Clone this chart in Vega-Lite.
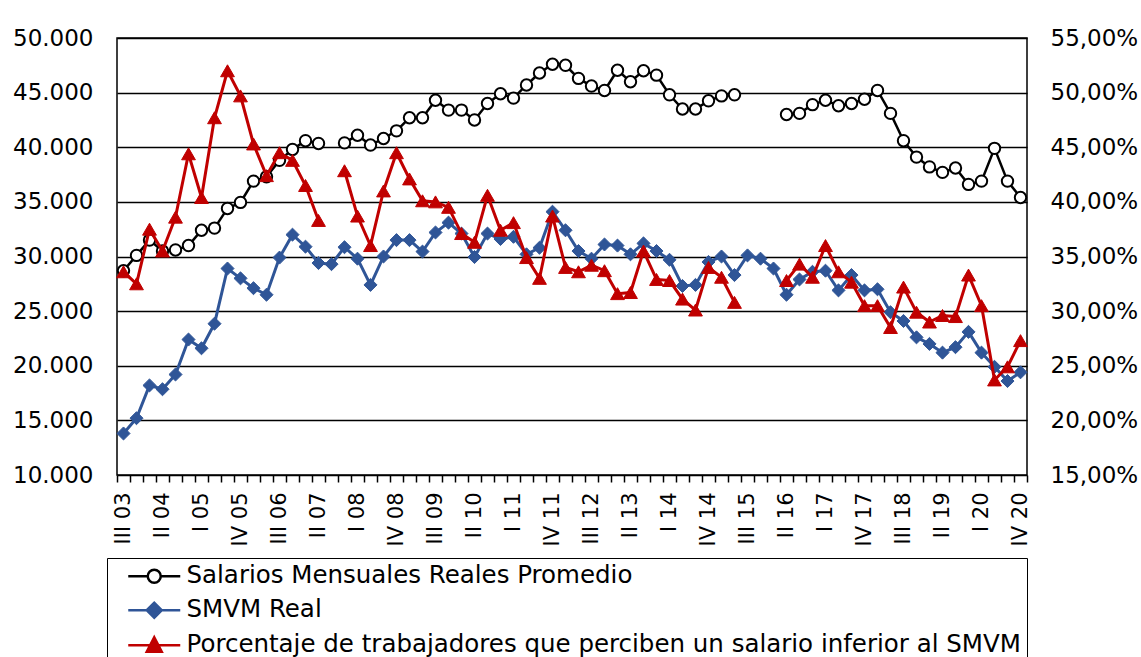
{
  "$schema": "https://vega.github.io/schema/vega-lite/v6.json",
  "autosize": "none",
  "width": 910,
  "height": 437,
  "padding": {"left": 117, "top": 38, "right": 114, "bottom": 182},
  "background": "white",
  "config": {
    "view": {"stroke": "black", "strokeWidth": 1.5},
    "font": "DejaVu Sans",
    "legend": {
      "orient": "none",
      "legendX": -10,
      "legendY": 520,
      "direction": "vertical",
      "strokeColor": "black",
      "fillColor": "white",
      "padding": 6,
      "rowPadding": 9,
      "labelFontSize": 24.5,
      "labelFont": "DejaVu Sans",
      "labelColor": "black",
      "labelLimit": 2000,
      "symbolSize": 400,
      "symbolOffset": 29,
      "labelOffset": 20,
      "symbolStrokeWidth": 2.5,
      "symbolOpacity": 1
    }
  },
  "data": {
    "values": [
      {"q": "III 03", "s": 28700, "m": 13800, "p": 33.6},
      {"q": "IV 03", "s": 30100, "m": 15200, "p": 32.5},
      {"q": "I 04", "s": 31500, "m": 18200, "p": 37.5},
      {"q": "II 04", "s": 30500, "m": 17850, "p": 35.5},
      {"q": "III 04", "s": 30600, "m": 19200, "p": 38.6},
      {"q": "IV 04", "s": 31000, "m": 22400, "p": 44.4},
      {"q": "I 05", "s": 32400, "m": 21600, "p": 40.4},
      {"q": "II 05", "s": 32600, "m": 23850, "p": 47.7},
      {"q": "III 05", "s": 34400, "m": 28900, "p": 52.0},
      {"q": "IV 05", "s": 34950, "m": 28000, "p": 49.7},
      {"q": "I 06", "s": 36900, "m": 27100, "p": 45.3},
      {"q": "II 06", "s": 37300, "m": 26500, "p": 42.4},
      {"q": "III 06", "s": 38800, "m": 29900, "p": 44.5},
      {"q": "IV 06", "s": 39800, "m": 32000, "p": 43.8},
      {"q": "I 07", "s": 40600, "m": 30900, "p": 41.5},
      {"q": "II 07", "s": 40350, "m": 29400, "p": 38.3},
      {"q": "III 07", "s": null, "m": 29300, "p": null},
      {"q": "IV 07", "s": 40400, "m": 30850, "p": 42.85},
      {"q": "I 08", "s": 41100, "m": 29800, "p": 38.7},
      {"q": "II 08", "s": 40200, "m": 27400, "p": 36.0},
      {"q": "III 08", "s": 40800, "m": 30000, "p": 41.0},
      {"q": "IV 08", "s": 41500, "m": 31500, "p": 44.5},
      {"q": "I 09", "s": 42700, "m": 31500, "p": 42.1},
      {"q": "II 09", "s": 42700, "m": 30450, "p": 40.1},
      {"q": "III 09", "s": 44300, "m": 32200, "p": 40.0},
      {"q": "IV 09", "s": 43400, "m": 33100, "p": 39.5},
      {"q": "I 10", "s": 43400, "m": 32100, "p": 37.1},
      {"q": "II 10", "s": 42500, "m": 29950, "p": 36.3},
      {"q": "III 10", "s": 44000, "m": 32100, "p": 40.6},
      {"q": "IV 10", "s": 44900, "m": 31600, "p": 37.4},
      {"q": "I 11", "s": 44500, "m": 31800, "p": 38.1},
      {"q": "II 11", "s": 45700, "m": 30200, "p": 34.9},
      {"q": "III 11", "s": 46800, "m": 30800, "p": 33.0},
      {"q": "IV 11", "s": 47600, "m": 34100, "p": 38.7},
      {"q": "I 12", "s": 47500, "m": 32400, "p": 34.0},
      {"q": "II 12", "s": 46300, "m": 30500, "p": 33.6},
      {"q": "III 12", "s": 45600, "m": 29800, "p": 34.2},
      {"q": "IV 12", "s": 45200, "m": 31100, "p": 33.7},
      {"q": "I 13", "s": 47050, "m": 31000, "p": 31.6},
      {"q": "II 13", "s": 46000, "m": 30200, "p": 31.7},
      {"q": "III 13", "s": 47000, "m": 31200, "p": 35.5},
      {"q": "IV 13", "s": 46600, "m": 30500, "p": 32.9},
      {"q": "I 14", "s": 44800, "m": 29700, "p": 32.8},
      {"q": "II 14", "s": 43500, "m": 27300, "p": 31.1},
      {"q": "III 14", "s": 43500, "m": 27400, "p": 30.1},
      {"q": "IV 14", "s": 44250, "m": 29500, "p": 34.0},
      {"q": "I 15", "s": 44700, "m": 30000, "p": 33.1},
      {"q": "II 15", "s": 44800, "m": 28300, "p": 30.8},
      {"q": "III 15", "s": null, "m": 30100, "p": null},
      {"q": "IV 15", "s": null, "m": 29800, "p": null},
      {"q": "I 16", "s": null, "m": 28900, "p": null},
      {"q": "II 16", "s": 43000, "m": 26500, "p": 32.8},
      {"q": "III 16", "s": 43100, "m": 27900, "p": 34.3},
      {"q": "IV 16", "s": 43900, "m": 28600, "p": 33.1},
      {"q": "I 17", "s": 44300, "m": 28700, "p": 36.0},
      {"q": "II 17", "s": 43800, "m": 26900, "p": 33.6},
      {"q": "III 17", "s": 44000, "m": 28300, "p": 32.65},
      {"q": "IV 17", "s": 44400, "m": 26900, "p": 30.5},
      {"q": "I 18", "s": 45200, "m": 27000, "p": 30.5},
      {"q": "II 18", "s": 43100, "m": 24900, "p": 28.5},
      {"q": "III 18", "s": 40600, "m": 24100, "p": 32.2},
      {"q": "IV 18", "s": 39100, "m": 22600, "p": 29.9},
      {"q": "I 19", "s": 38200, "m": 22000, "p": 29.0},
      {"q": "II 19", "s": 37700, "m": 21200, "p": 29.6},
      {"q": "III 19", "s": 38100, "m": 21700, "p": 29.5},
      {"q": "IV 19", "s": 36600, "m": 23100, "p": 33.3},
      {"q": "I 20", "s": 36900, "m": 21200, "p": 30.5},
      {"q": "II 20", "s": 39900, "m": 19900, "p": 23.7},
      {"q": "III 20", "s": 36900, "m": 18600, "p": 24.9},
      {"q": "IV 20", "s": 35400, "m": 19400, "p": 27.3}
    ]
  },
  "encoding": {
    "x": {
      "field": "q",
      "type": "ordinal",
      "sort": null,
      "scale": {"type": "band", "paddingInner": 0, "paddingOuter": 0},
      "axis": {
        "title": null,
        "orient": "bottom",
        "tickBand": "extent",
        "ticks": true,
        "tickSize": 7,
        "tickWidth": 1.5,
        "tickColor": "black",
        "domain": false,
        "grid": false,
        "labelAngle": 270,
        "labelPadding": 10,
        "labelFontSize": 21,
        "labelFont": "DejaVu Sans",
        "labelColor": "black",
        "labelOverlap": false,
        "labelExpr": "indexof(['III 03','II 04','I 05','IV 05','III 06','II 07','I 08','IV 08','III 09','II 10','I 11','IV 11','III 12','II 13','I 14','IV 14','III 15','II 16','I 17','IV 17','III 18','II 19','I 20','IV 20'], datum.value) >= 0 ? datum.value : ''"
      }
    }
  },
  "layer": [
    {
      "layer": [
        {
          "mark": {"type": "line", "color": "#000000", "strokeWidth": 2.5, "invalid": "break-paths-show-domains"},
          "encoding": {
            "y": {
              "field": "s",
              "type": "quantitative",
              "scale": {"domain": [10000, 50000], "nice": false, "zero": false},
              "axis": {
                "title": null,
                "orient": "left",
                "values": [10000, 15000, 20000, 25000, 30000, 35000, 40000, 45000, 50000],
                "grid": true,
                "gridColor": "black",
                "gridWidth": 1.5,
                "ticks": false,
                "tickSize": 0,
                "domain": false,
                "labelPadding": 24,
                "labelFontSize": 23,
                "labelFont": "DejaVu Sans",
                "labelColor": "black",
                "labelExpr": "replace(format(datum.value, ','), ',', '.')"
              }
            }
          }
        },
        {
          "mark": {"type": "point", "shape": "circle", "filled": true, "fill": "white", "stroke": "black", "strokeWidth": 2, "size": 130, "opacity": 1, "invalid": "filter"},
          "encoding": {"y": {"field": "s", "type": "quantitative", "scale": {"domain": [10000, 50000], "nice": false, "zero": false}}}
        },
        {
          "mark": {"type": "line", "color": "#2F5597", "strokeWidth": 3, "invalid": "break-paths-show-domains"},
          "encoding": {"y": {"field": "m", "type": "quantitative", "scale": {"domain": [10000, 50000], "nice": false, "zero": false}}}
        },
        {
          "mark": {"type": "point", "shape": "diamond", "filled": true, "fill": "#2F5597", "stroke": "#2F5597", "strokeWidth": 1, "size": 170, "opacity": 1, "invalid": "filter"},
          "encoding": {"y": {"field": "m", "type": "quantitative", "scale": {"domain": [10000, 50000], "nice": false, "zero": false}}}
        },
        {
          "transform": [{"filter": "false"}],
          "mark": {"type": "point", "filled": true},
          "encoding": {
            "y": {"field": "m", "type": "quantitative", "scale": {"domain": [10000, 50000], "nice": false, "zero": false}},
            "shape": {
              "datum": "SMVM Real",
              "type": "nominal",
              "scale": {
                "domain": ["Salarios Mensuales Reales Promedio", "SMVM Real", "Porcentaje de trabajadores que perciben un salario inferior al SMVM"],
                "range": [
                  "M-2.6,0L-0.7,0M0.7,0L2.6,0M-0.65,0A0.65,0.65,0,1,1,0.65,0A0.65,0.65,0,1,1,-0.65,0Z",
                  "M-2.6,0L2.6,0M-0.75,0L0,-0.75L0.75,0L0,0.75Z",
                  "M-2.6,0L2.6,0M0,-0.8L0.75,0.65L-0.75,0.65Z"
                ]
              },
              "legend": {"title": null, "orient": "none", "legendX": -10, "legendY": 520}
            },
            "fill": {
              "datum": "SMVM Real",
              "type": "nominal",
              "scale": {
                "domain": ["Salarios Mensuales Reales Promedio", "SMVM Real", "Porcentaje de trabajadores que perciben un salario inferior al SMVM"],
                "range": ["#FFFFFF", "#2F5597", "#C00000"]
              },
              "legend": {"title": null, "orient": "none", "legendX": -10, "legendY": 520}
            },
            "stroke": {
              "datum": "SMVM Real",
              "type": "nominal",
              "scale": {
                "domain": ["Salarios Mensuales Reales Promedio", "SMVM Real", "Porcentaje de trabajadores que perciben un salario inferior al SMVM"],
                "range": ["#000000", "#2F5597", "#C00000"]
              },
              "legend": {"title": null, "orient": "none", "legendX": -10, "legendY": 520}
            }
          }
        }
      ]
    },
    {
      "layer": [
        {
          "mark": {"type": "line", "color": "#C00000", "strokeWidth": 3, "invalid": "break-paths-show-domains"},
          "encoding": {
            "y": {
              "field": "p",
              "type": "quantitative",
              "scale": {"domain": [15, 55], "nice": false, "zero": false},
              "axis": {
                "title": null,
                "orient": "right",
                "values": [15, 20, 25, 30, 35, 40, 45, 50, 55],
                "grid": false,
                "ticks": false,
                "tickSize": 0,
                "domain": false,
                "labelPadding": 23,
                "labelFontSize": 23,
                "labelFont": "DejaVu Sans",
                "labelColor": "black",
                "labelExpr": "replace(format(datum.value, '.2f'), '.', ',') + '%'"
              }
            }
          }
        },
        {
          "mark": {"type": "point", "shape": "triangle-up", "filled": true, "fill": "#C00000", "stroke": "#C00000", "strokeWidth": 1, "size": 190, "opacity": 1, "invalid": "filter"},
          "encoding": {"y": {"field": "p", "type": "quantitative", "scale": {"domain": [15, 55], "nice": false, "zero": false}}}
        }
      ]
    }
  ],
  "resolve": {"scale": {"y": "independent"}}
}
